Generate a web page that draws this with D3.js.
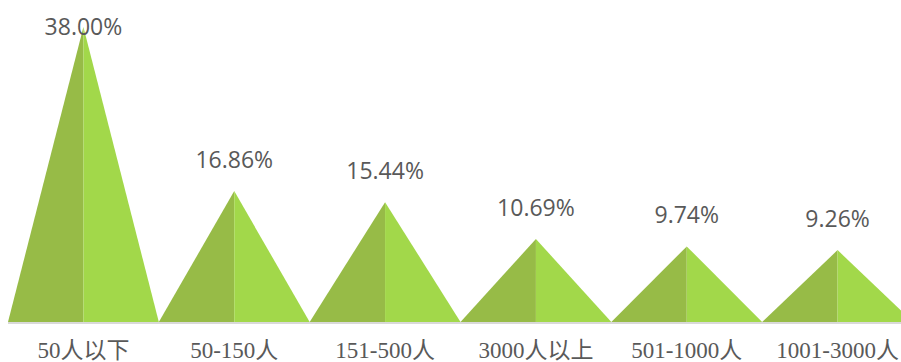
<!DOCTYPE html>
<html>
<head>
<meta charset="utf-8">
<script src="https://cdn.jsdelivr.net/npm/d3@7"></script>
<style>
  body { margin: 0; background: #fff; }
  svg { display: block; }
</style>
</head>
<body>
<div id="chart"></div>
<script>
const categories = ['50人以下', '50-150人', '151-500人', '3000人以上', '501-1000人', '1001-3000人'];
const values = [38.00, 16.86, 15.44, 10.69, 9.74, 9.26];

const width = 901, height = 362;
const baseY = 322;

const x = d3.scaleBand()
  .domain(categories)
  .range([8, 913])
  .padding(0);

const y = d3.scaleLinear()
  .domain([0, 38])
  .range([baseY, 27]);

const svg = d3.select('#chart').append('svg')
  .attr('width', width)
  .attr('height', height);

const data = categories.map((c, i) => ({ cat: c, value: values[i] }));

// baseline
svg.append('line')
  .attr('x1', 8).attr('x2', width)
  .attr('y1', baseY + 1).attr('y2', baseY + 1)
  .attr('stroke', '#d9d9d9')
  .attr('stroke-width', 2);

const g = svg.selectAll('.peak')
  .data(data)
  .enter()
  .append('g')
  .attr('class', 'peak');

// left (darker) half
g.append('path')
  .attr('fill', '#97bb47')
  .attr('d', d => {
    const x0 = x(d.cat), cx = x0 + x.bandwidth() / 2;
    return `M${x0},${baseY}L${cx},${y(d.value)}L${cx},${baseY}Z`;
  });

// right (lighter) half
g.append('path')
  .attr('fill', '#a2d84a')
  .attr('d', d => {
    const x0 = x(d.cat), cx = x0 + x.bandwidth() / 2, x1 = x0 + x.bandwidth();
    return `M${cx},${baseY}L${cx},${y(d.value)}L${x1},${baseY}Z`;
  });

// value labels
g.append('text')
  .attr('x', d => x(d.cat) + x.bandwidth() / 2)
  .attr('y', d => Math.max(y(d.value) - 23, 35))
  .attr('text-anchor', 'middle')
  .attr('font-family', '"Open Sans", sans-serif')
  .attr('font-size', 23)
  .attr('fill', '#595959')
  .text(d => d.value.toFixed(2) + '%');

// category labels
g.append('text')
  .attr('x', d => x(d.cat) + x.bandwidth() / 2)
  .attr('y', 358)
  .attr('text-anchor', 'middle')
  .attr('font-family', '"Liberation Serif", "Noto Sans CJK SC", serif')
  .attr('font-size', 23)
  .attr('fill', '#595959')
  .text(d => d.cat);
</script>
</body>
</html>
